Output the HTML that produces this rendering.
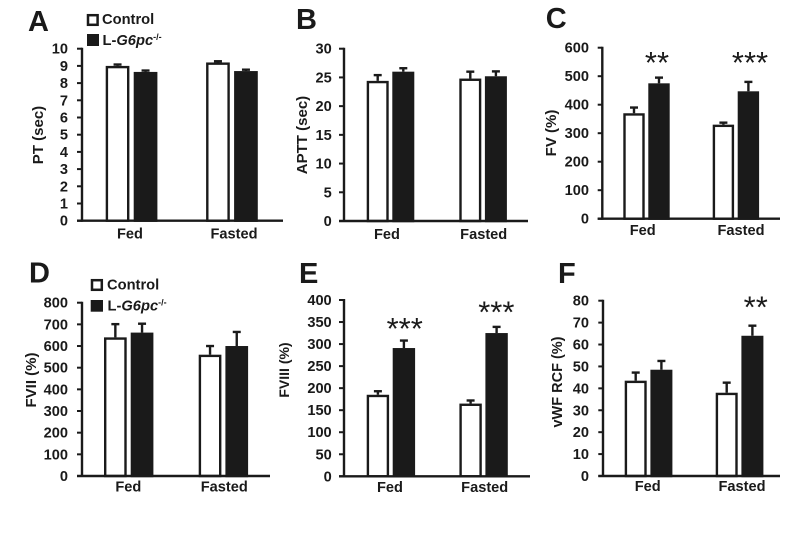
<!DOCTYPE html>
<html lang="en">
<head>
<meta charset="utf-8">
<title>Coagulation panels</title>
<style>
html,body{margin:0;padding:0;background:#fff;}
svg{display:block;filter:blur(0.3px);}
text{font-family:"Liberation Sans",Arial,sans-serif;font-weight:bold;fill:#1a1a1a;}
</style>
</head>
<body>
<svg id="chart" xmlns="http://www.w3.org/2000/svg" width="787" height="537" viewBox="0 0 787 537">
  <g>
    <rect x="88" y="15.2" width="9.6" height="9.6" fill="#fff" stroke="#1a1a1a" stroke-width="2.5"/>
    <text x="102" y="24" font-size="14.7">Control</text>
    <rect x="87" y="34" width="12" height="12" fill="#1a1a1a"/>
    <text x="102.5" y="45" font-size="14.7">L-<tspan font-style="italic">G6pc</tspan><tspan font-size="9" dy="-5">-/-</tspan></text>
  </g>
  <g>
    <rect x="92" y="280.2" width="9.8" height="9.6" fill="#fff" stroke="#1a1a1a" stroke-width="2.5"/>
    <text x="107" y="289.7" font-size="14.7">Control</text>
    <rect x="90.7" y="300" width="12.3" height="11.7" fill="#1a1a1a"/>
    <text x="107.5" y="310.7" font-size="14.7">L-<tspan font-style="italic">G6pc</tspan><tspan font-size="9" dy="-5">-/-</tspan></text>
  </g>
</svg>
<script>
var categories = ['Fed', 'Fasted'];

var ticksA = [0, 1, 2, 3, 4, 5, 6, 7, 8, 9, 10];
var controlA = [9.0, 9.2];
var knockoutA = [8.65, 8.7];
var controlErrA = [0.08, 0.07];
var knockoutErrA = [0.08, 0.08];
var starsA = ['', ''];

var ticksB = [0, 5, 10, 15, 20, 25, 30];
var controlB = [24.4, 24.8];
var knockoutB = [26.0, 25.2];
var controlErrB = [1.0, 1.2];
var knockoutErrB = [0.6, 0.85];
var starsB = ['', ''];

var ticksC = [0, 100, 200, 300, 400, 500, 600];
var controlC = [370, 330];
var knockoutC = [475, 447];
var controlErrC = [20, 7];
var knockoutErrC = [20, 33];
var starsC = ['**', '***'];

var ticksD = [0, 100, 200, 300, 400, 500, 600, 700, 800];
var controlD = [640, 560];
var knockoutD = [662, 600];
var controlErrD = [61, 40];
var knockoutErrD = [41, 65];
var starsD = ['', ''];

var ticksE = [0, 50, 100, 150, 200, 250, 300, 350, 400];
var controlE = [185, 165];
var knockoutE = [291, 325];
var controlErrE = [8, 7];
var knockoutErrE = [17, 14];
var starsE = ['***', '***'];

var ticksF = [0, 10, 20, 30, 40, 50, 60, 70, 80];
var controlF = [43.5, 38];
var knockoutF = [48.5, 64];
var controlErrF = [3.7, 4.6];
var knockoutErrF = [4, 4.6];
var starsF = ['', '**'];

var INK = '#1a1a1a';
var LINE = 2.4;
var svg = document.getElementById('chart');
var NS = 'http://www.w3.org/2000/svg';

function make(tag, parent, props, txt) {
  var el = document.createElementNS(NS, tag);
  for (var k in props) el.setAttribute(k, props[k]);
  if (txt !== undefined) el.textContent = txt;
  parent.appendChild(el);
  return el;
}

function drawPanel(p, ticks, control, knockout, controlErr, knockoutErr, stars) {
  var key = p.letter.toLowerCase();
  var maxTick = ticks[ticks.length - 1];
  var yScale = function (v) { return p.y0 - (v / maxTick) * (p.y0 - p.yTop); };
  var xScale = function (group, series) { return p.barLeft + group * p.groupStep + series * p.barPitch; };

  var g = make('g', svg, {});
  
  

  var letter = make('text', g, { x: p.letterX, y: p.letterY, 'font-size': 29 }, p.letter);
  
  

  var title = make('text', g, {
    x: p.titleX, y: p.titleY, 'font-size': p.titleSize, 'text-anchor': 'middle',
    transform: 'rotate(-90 ' + p.titleX + ' ' + p.titleY + ')'
  }, p.title);
  
  

  ticks.forEach(function (t) {
    var y = yScale(t);
    var tick = make('line', g, { x1: p.tickLeft, x2: p.axisX, y1: y, y2: y, stroke: INK, 'stroke-width': 2 });
    
    
    var label = make('text', g, { x: p.labelRight, y: y + 5, 'font-size': 14.6, 'text-anchor': 'end' }, String(t));
    
    
  });

  var seriesList = [
    { name: 'control', values: control, errs: controlErr, fill: '#fff' },
    { name: 'knockout', values: knockout, errs: knockoutErr, fill: INK }
  ];

  seriesList.forEach(function (s, si) {
    s.values.forEach(function (v, gi) {
      var left = xScale(gi, si);
      var cx = left + p.barWidth / 2;
      var top = yScale(v);
      var errTop = yScale(v + s.errs[gi]);

      var stem = make('line', g, { x1: cx, x2: cx, y1: top, y2: errTop, stroke: INK, 'stroke-width': LINE });
      
      

      var cap = make('line', g, { x1: cx - 4, x2: cx + 4, y1: errTop, y2: errTop, stroke: INK, 'stroke-width': LINE });
      
      

      var bar = make('rect', g, {
        x: left + LINE / 2, y: top + LINE / 2, width: p.barWidth - LINE, height: Math.max(0, p.y0 - top - LINE / 2),
        fill: s.fill, stroke: INK, 'stroke-width': LINE
      });
      
      
    });
  });

  var yAxis = make('line', g, { x1: p.axisX, x2: p.axisX, y1: p.yTop - 1, y2: p.y0 + 1, stroke: INK, 'stroke-width': LINE });
  
  

  var xAxis = make('line', g, { x1: p.tickLeft, x2: p.axisEnd, y1: p.y0, y2: p.y0, stroke: INK, 'stroke-width': LINE });
  
  

  categories.forEach(function (c, gi) {
    var cat = make('text', g, { x: p.catX[gi], y: p.catY, 'font-size': 14.6, 'text-anchor': 'middle' }, c);
    
    
  });

  stars.forEach(function (st, gi) {
    if (!st) return;
    var mark = make('text', g, {
      x: p.starX[gi], y: p.starY[gi] + 13, 'font-size': 31, 'text-anchor': 'middle',
      style: 'font-weight:normal'
    }, st);
    
    
  });
}

drawPanel({ letter: 'A', letterX: 28, letterY: 31, title: 'PT (sec)', titleX: 43, titleY: 135, titleSize: 15,
  axisX: 82, tickLeft: 77, axisEnd: 283, labelRight: 68, y0: 220.7, yTop: 48.7,
  barLeft: 105.7, barPitch: 28, barWidth: 23.7, groupStep: 100.4,
  catX: [130, 234], catY: 238.5, starX: [0, 0], starY: [0, 0] },
  ticksA, controlA, knockoutA, controlErrA, knockoutErrA, starsA);

drawPanel({ letter: 'B', letterX: 296, letterY: 29, title: 'APTT (sec)', titleX: 307, titleY: 135, titleSize: 15,
  axisX: 344, tickLeft: 339, axisEnd: 528, labelRight: 331.7, y0: 221, yTop: 48.7,
  barLeft: 366.7, barPitch: 25.6, barWidth: 22, groupStep: 92.6,
  catX: [387, 483.7], catY: 239, starX: [0, 0], starY: [0, 0] },
  ticksB, controlB, knockoutB, controlErrB, knockoutErrB, starsB);

drawPanel({ letter: 'C', letterX: 545.7, letterY: 28, title: 'FV (%)', titleX: 556, titleY: 133, titleSize: 15,
  axisX: 602.3, tickLeft: 597.7, axisEnd: 780, labelRight: 589, y0: 218.7, yTop: 47.7,
  barLeft: 623.3, barPitch: 25, barWidth: 21.4, groupStep: 89.4,
  catX: [642.7, 741], catY: 235, starX: [657, 750], starY: [60, 60] },
  ticksC, controlC, knockoutC, controlErrC, knockoutErrC, starsC);

drawPanel({ letter: 'D', letterX: 29, letterY: 282.7, title: 'FVII (%)', titleX: 36, titleY: 380, titleSize: 15,
  axisX: 82, tickLeft: 77, axisEnd: 270, labelRight: 68, y0: 476, yTop: 302.7,
  barLeft: 104, barPitch: 26.7, barWidth: 22.7, groupStep: 94.7,
  catX: [128.3, 224.3], catY: 491.5, starX: [0, 0], starY: [0, 0] },
  ticksD, controlD, knockoutD, controlErrD, knockoutErrD, starsD);

drawPanel({ letter: 'E', letterX: 299, letterY: 283, title: 'FVIII (%)', titleX: 289, titleY: 370, titleSize: 14,
  axisX: 344, tickLeft: 339, axisEnd: 530, labelRight: 331.7, y0: 476.3, yTop: 300,
  barLeft: 366.7, barPitch: 26, barWidth: 22.4, groupStep: 92.7,
  catX: [390, 484.7], catY: 492, starX: [404.7, 496.3], starY: [326, 309.3] },
  ticksE, controlE, knockoutE, controlErrE, knockoutErrE, starsE);

drawPanel({ letter: 'F', letterX: 558, letterY: 283, title: 'vWF RCF (%)', titleX: 562, titleY: 382, titleSize: 14.5,
  axisX: 603, tickLeft: 598.3, axisEnd: 780, labelRight: 589, y0: 476, yTop: 300.7,
  barLeft: 624.7, barPitch: 25.7, barWidth: 22, groupStep: 91,
  catX: [647.7, 742], catY: 491, starX: [0, 755.7], starY: [0, 304.3] },
  ticksF, controlF, knockoutF, controlErrF, knockoutErrF, starsF);
</script>
</body>
</html>
